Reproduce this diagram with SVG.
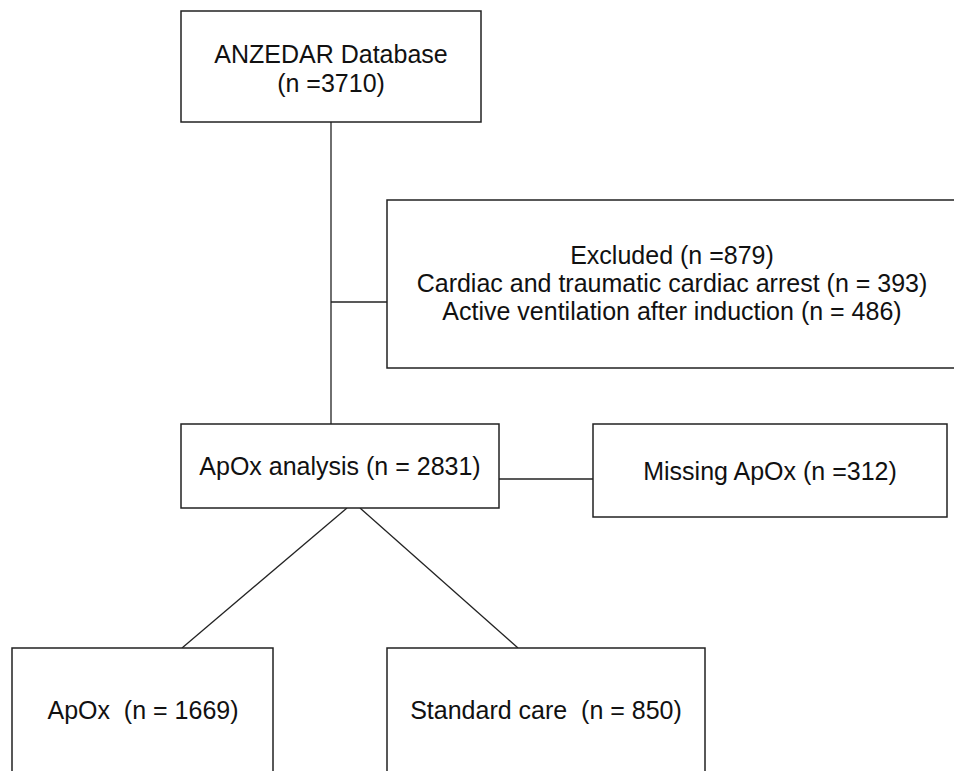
<svg xmlns="http://www.w3.org/2000/svg" width="954" height="771" viewBox="0 0 954 771">
  <style>
    .box { fill: #ffffff; stroke: #222222; stroke-width: 1.5; }
    .link { stroke: #222222; stroke-width: 1.3; fill: none; }
    .label { font-family: "Liberation Sans", Arial, sans-serif; font-size: 25px; fill: #111111; text-anchor: middle; white-space: pre; }
  </style>
  <rect width="954" height="771" fill="#ffffff"/>

  <!-- connectors -->
  <g id="connectors">
    <line class="link" x1="331" y1="122" x2="331" y2="424"/>
    <line class="link" x1="331" y1="302" x2="387" y2="302"/>
    <line class="link" x1="499" y1="479" x2="593" y2="479"/>
    <line class="link" x1="347" y1="508" x2="182" y2="648"/>
    <line class="link" x1="360" y1="508" x2="518" y2="648"/>
  </g>

  <g id="node-database">
    <rect class="box" x="181" y="11" width="300" height="111"/>
    <text class="label" x="331" y="63">ANZEDAR Database</text>
    <text class="label" x="331" y="92">(n =3710)</text>
  </g>

  <g id="node-excluded">
    <rect class="box" x="387" y="200" width="580" height="168"/>
    <text class="label" x="672" y="264">Excluded (n =879)</text>
    <text class="label" x="672" y="292">Cardiac and traumatic cardiac arrest (n = 393)</text>
    <text class="label" x="672" y="320">Active ventilation after induction (n = 486)</text>
  </g>

  <g id="node-analysis">
    <rect class="box" x="181" y="424" width="318" height="84"/>
    <text class="label" x="340" y="475">ApOx analysis (n = 2831)</text>
  </g>

  <g id="node-missing">
    <rect class="box" x="593" y="424" width="354" height="93"/>
    <text class="label" x="770" y="480">Missing ApOx (n =312)</text>
  </g>

  <g id="node-apox">
    <rect class="box" x="12" y="648" width="261" height="140"/>
    <text class="label" x="143" y="719" xml:space="preserve">ApOx  (n = 1669)</text>
  </g>

  <g id="node-standard">
    <rect class="box" x="387" y="648" width="318" height="140"/>
    <text class="label" x="546" y="719" xml:space="preserve">Standard care  (n = 850)</text>
  </g>
</svg>
